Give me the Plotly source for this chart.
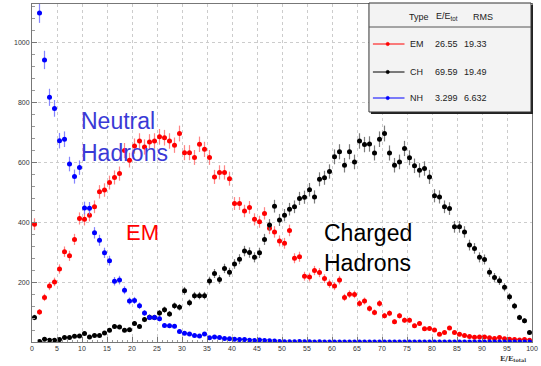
import numpy as np
import plotly.graph_objects as go

# ---- data (bin contents, 100 bins of width 1 from 0 to 100) ----
bin_centers = [i + 0.5 for i in range(100)]

em_counts = [394, 100, 149, 187, 201, 244, 302, 288, 343, 413,
             410, 424, 452, 502, 508, 533, 550, 563, 640, 608,
             655, 672, 652, 669, 672, 686, 683, 672, 658, 697,
             633, 633, 617, 661, 644, 617, 552, 567, 567, 546,
             463, 463, 438, 450, 410, 402, 430, 380, 368, 338,
             330, 373, 280, 285, 220, 217, 239, 232, 212, 195,
             187, 207, 149, 160, 159, 129, 137, 112, 99, 129,
             88, 96, 68, 88, 73, 73, 54, 62, 44, 45,
             40, 26, 32, 47, 32, 26, 22, 18, 16, 17,
             17, 14, 12, 15, 11, 9, 8, 7, 8, 6]

ch_counts = [82, 2, 9, 6, 6, 8, 15, 15, 19, 20,
             28, 17, 22, 22, 30, 39, 52, 50, 39, 41,
             62, 52, 75, 83, 82, 97, 108, 94, 121, 116,
             171, 131, 155, 155, 155, 204, 229, 209, 246, 233,
             261, 277, 304, 299, 283, 298, 343, 391, 454, 408,
             424, 444, 452, 480, 484, 509, 485, 544, 549, 570,
             619, 636, 591, 636, 602, 672, 660, 662, 632, 678,
             697, 632, 591, 602, 647, 616, 589, 574, 580, 552,
             489, 485, 452, 446, 385, 385, 368, 324, 313, 283,
             276, 233, 216, 205, 183, 151, 120, 82, 71, 32]

nh_counts = [1450, 1100, 943, 818, 781, 673, 678, 595, 553, 583,
             448, 447, 365, 340, 298, 272, 203, 207, 173, 137,
             139, 121, 97, 82, 82, 78, 55, 54, 53, 35,
             29, 27, 22, 20, 27, 14, 17, 15, 12, 11,
             9, 8, 8, 6, 5, 7, 5, 4, 3, 2,
             1, 1, 1, 2, 1, 1, 0, 1, 0, 0,
             0, 0, 0, 0, 0, 0, 0, 0, 0, 0,
             0, 0, 0, 0, 0, 0, 0, 0, 0, 0,
             0, 0, 0, 0, 0, 0, 0, 0, 0, 0,
             0, 0, 0, 0, 0, 0, 0, 0, 0, 0]

x_ticks = list(range(0, 101, 5))
y_ticks = [200, 400, 600, 800, 1000]

legend_types = ["EM", "CH", "NH"]
legend_means = ["26.55", "69.59", "3.299"]
legend_rms = ["19.33", "19.49", "6.632"]

series = [
    ("EM", em_counts, "#ff0000", "rgba(255,120,120,0.9)"),
    ("CH", ch_counts, "#000000", "rgba(110,110,110,0.9)"),
    ("NH", nh_counts, "#0000ff", "rgba(120,120,255,0.9)"),
]

W, H = 541, 366
L, R, T, B = 32, 3, 4, 24
PW, PH = W - L - R, H - T - B


def px(x):
    return (x - L) / PW


def py(y):
    return (H - B - y) / PH


fig = go.Figure()
for name, vals, col, ecol in series:
    v = np.array(vals, dtype=float)
    fig.add_trace(go.Scatter(
        x=bin_centers, y=vals, mode="markers", name=name,
        marker=dict(color=col, size=5),
        error_y=dict(type="data", array=np.sqrt(v), color=ecol, thickness=1.2, width=0),
        error_x=dict(type="constant", value=0.5, color=ecol, thickness=1, width=0),
        showlegend=False,
    ))

SANS = "Liberation Sans, Arial"

annotations = [
    dict(x=px(80), y=py(121), text="Neutral", font=dict(family=SANS, size=23, color="#3a3ad6")),
    dict(x=px(80), y=py(153), text="Hadrons", font=dict(family=SANS, size=23, color="#3a3ad6")),
    dict(x=px(125), y=py(232), text="EM", font=dict(family=SANS, size=22, color="#ff0000")),
    dict(x=px(325), y=py(233), text="Charged", font=dict(family=SANS, size=23, color="#000000")),
    dict(x=px(325), y=py(263), text="Hadrons", font=dict(family=SANS, size=23, color="#000000")),
]
for a in annotations:
    a.update(xref="paper", yref="paper", xanchor="left", yanchor="middle", showarrow=False)

# legend box (ROOT style)
shapes = [
    dict(type="rect", xref="paper", yref="paper", x0=px(375), x1=px(539), y0=py(114), y1=py(5),
         fillcolor="#222222", line=dict(width=0)),
    dict(type="rect", xref="paper", yref="paper", x0=px(373), x1=px(537), y0=py(112), y1=py(3),
         fillcolor="#f3f3f3", line=dict(color="#333333", width=1)),
    dict(type="line", xref="paper", yref="paper", x0=px(373), x1=px(537), y0=py(27), y1=py(27),
         line=dict(color="#555555", width=1)),
]
legend_font = dict(family=SANS, size=9, color="#222222")
annotations += [
    dict(x=px(412), y=py(17), text="Type"),
    dict(x=px(439), y=py(17), text="E/E<sub>tot</sub>"),
    dict(x=px(476), y=py(17), text="RMS"),
]
row_y = [44, 72, 98]
for (name, vals, col, ecol), t, m, r, yy in zip(series, legend_types, legend_means, legend_rms, row_y):
    shapes.append(dict(type="line", xref="paper", yref="paper", x0=px(377), x1=px(409),
                       y0=py(yy), y1=py(yy), line=dict(color=col, width=1)))
    shapes.append(dict(type="circle", xref="paper", yref="paper", x0=px(390.3), x1=px(393.7),
                       y0=py(yy + 1.7), y1=py(yy - 1.7), fillcolor=col, line=dict(color=col, width=0.5)))
    annotations += [
        dict(x=px(413), y=py(yy), text=t),
        dict(x=px(438), y=py(yy), text=m),
        dict(x=px(467), y=py(yy), text=r),
    ]
for a in annotations:
    if "font" not in a:
        a.update(xref="paper", yref="paper", xanchor="left", yanchor="middle",
                 showarrow=False, font=legend_font)

annotations.append(dict(x=px(534), y=py(358), xref="paper", yref="paper", xanchor="right",
                        yanchor="middle", showarrow=False,
                        text="<b>E/E<sub>total</sub></b>",
                        font=dict(family="DejaVu Serif, serif", size=7, color="#333333")))

fig.update_layout(
    width=W, height=H,
    margin=dict(l=L, r=R, t=T, b=B, pad=0),
    paper_bgcolor="white", plot_bgcolor="white",
    shapes=shapes, annotations=annotations,
    showlegend=False,
    xaxis=dict(range=[0, 100], tickvals=x_ticks, ticktext=[str(v) for v in x_ticks],
               showline=True, mirror=True, linecolor="#777777", linewidth=1,
               ticks="inside", ticklen=5, tickcolor="#777777",
               minor=dict(ticks="inside", dtick=1, ticklen=2, tickcolor="#999999", showgrid=False),
               showgrid=True, gridcolor="#cccccc", griddash="dot", gridwidth=1,
               zeroline=False, ticklabeloverflow="allow",
               tickfont=dict(family=SANS, size=7, color="#333333")),
    yaxis=dict(range=[0, 1130], tickvals=y_ticks, ticktext=[str(v) for v in y_ticks],
               showline=True, mirror=True, linecolor="#777777", linewidth=1,
               ticks="inside", ticklen=5, tickcolor="#777777",
               minor=dict(ticks="inside", dtick=40, ticklen=3, tickcolor="#999999", showgrid=False),
               showgrid=True, gridcolor="#cccccc", griddash="dot", gridwidth=1,
               zeroline=False, tickfont=dict(family=SANS, size=7, color="#333333")),
)

fig.write_html("out.html")
